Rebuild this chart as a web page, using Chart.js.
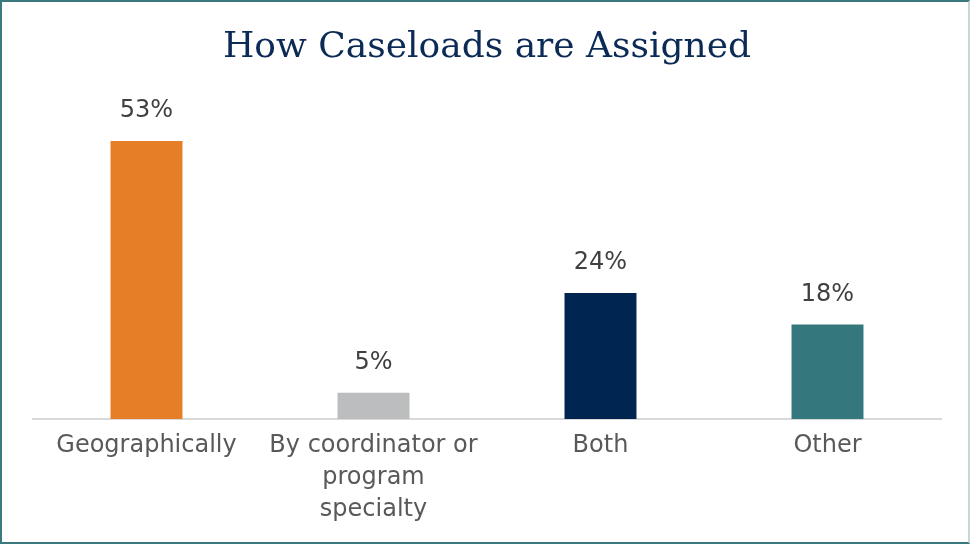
<!DOCTYPE html>
<html>
<head>
<meta charset="utf-8">
<script src="https://cdn.jsdelivr.net/npm/chart.js@4"></script>
<style>
  html, body { margin: 0; padding: 0; background: #fff; }
  #wrap {
    position: relative;
    width: 966px;
    height: 540px;
    border: 2px solid #3a7a7e;
    border-right-color: #c9d6d8;
  }
  canvas { display: block; }
</style>
</head>
<body>
<div id="wrap"><canvas id="caseChart" width="966" height="540"></canvas></div>
<script>
"use strict";
const categories = [
    'Geographically',
    ['By coordinator or', 'program', 'specialty'],
    'Both',
    'Other'
];
const shares = [53, 5, 24, 18];
const barColors = ['#e67e28', '#bcbdbf', '#002550', '#34787d'];

const labelFont = '"DejaVu Sans", Lato, sans-serif';

// writes the percentage above each bar
const valueLabels = {
    id: 'valueLabels',
    afterDatasetsDraw(chart) {
        const ctx = chart.ctx;
        const meta = chart.getDatasetMeta(0);
        ctx.save();
        ctx.font = '24px ' + labelFont;
        ctx.fillStyle = '#404040';
        ctx.textAlign = 'center';
        ctx.textBaseline = 'middle';
        meta.data.forEach((bar, i) => {
            ctx.fillText(shares[i] + '%', bar.x, bar.y - 30);
        });
        ctx.restore();
    }
};

document.addEventListener('DOMContentLoaded', () => {
    const context = document.getElementById('caseChart');
    new Chart(context, {
        type: 'bar',
        data: {
            labels: categories,
            datasets: [{
                data: shares,
                backgroundColor: barColors,
                barPercentage: 0.317,
                categoryPercentage: 1
            }]
        },
        options: {
            responsive: false,
            animation: false,
            layout: { padding: { left: 31, right: 27, top: 0, bottom: 0 } },
            plugins: {
                legend: { display: false },
                tooltip: { enabled: false },
                title: {
                    display: true,
                    text: 'How Caseloads are Assigned',
                    color: '#0b2a55',
                    font: { family: '"DejaVu Serif", serif', size: 36, weight: 'normal', lineHeight: 1.2 },
                    padding: { top: 24, bottom: 35 }
                }
            },
            scales: {
                y: {
                    display: false,
                    min: 0,
                    max: 60
                },
                x: {
                    grid: { display: false },
                    border: { color: '#d9d9d9', width: 2 },
                    ticks: {
                        color: '#595959',
                        font: { family: labelFont, size: 24, lineHeight: 1.33 },
                        padding: 3,
                        maxRotation: 0,
                        autoSkip: false
                    },
                    afterFit(scale) {
                        scale.height = 123;
                    }
                }
            }
        },
        plugins: [valueLabels]
    });
});
</script>
</body>
</html>
